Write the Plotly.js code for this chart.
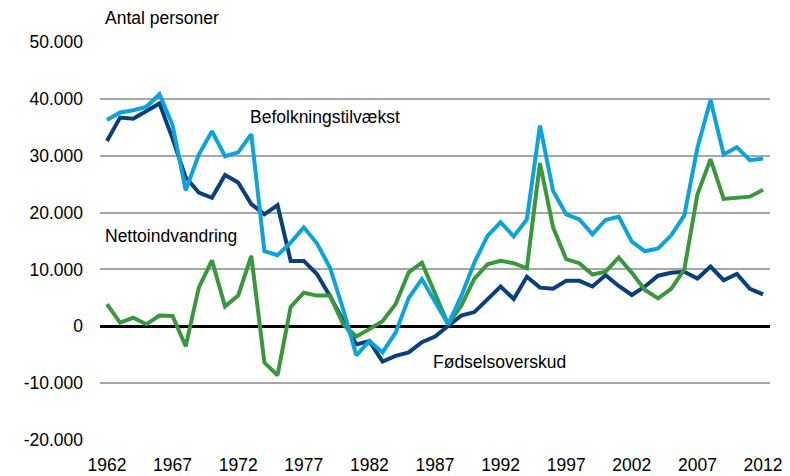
<!DOCTYPE html>
<html>
<head>
<meta charset="utf-8">
<script src="https://cdn.plot.ly/plotly-3.0.1.min.js"></script>
<style>
  html, body { margin: 0; padding: 0; background: #ffffff; }
  #chart { width: 790px; height: 476px; }
</style>
</head>
<body>
<div id="chart"></div>
<script>
const years = [];
for (let y = 1962; y <= 2012; y++) years.push(y);

const befolkningstilvaekst = [
  36300, 37600, 38000, 38600, 40800, 35400, 23900, 30200, 34300, 29900,
  30600, 33800, 13200, 12500, 14700, 17400, 14600, 10300, 3000, -5100,
  -2600, -4600, -1100, 5000, 8300, 4200, 350, 5300, 11200, 15900,
  18300, 15800, 18800, 35300, 23800, 19700, 18800, 16200, 18700, 19300,
  14900, 13200, 13700, 16000, 19500, 31400, 39800, 30200, 31500, 29200,
  29500
];

const nettoindvandring = [
  3900, 650, 1500, 350, 1900, 1800, -3500, 6800, 11600, 3500,
  5400, 12400, -6400, -8600, 3400, 5900, 5400, 5400, 350, -1800,
  -500, 900, 3900, 9500, 11200, 5900, 350, 3600, 8400, 10900,
  11500, 11100, 10200, 28700, 17400, 11800, 11100, 9100, 9600, 12100,
  9400, 6400, 4900, 6600, 10000, 23200, 29400, 22400, 22600, 22800,
  24000
];

const foedselsoverskud = [
  32600, 36700, 36500, 37900, 39200, 33000, 26200, 23500, 22600, 26600,
  25300, 21500, 19700, 21300, 11500, 11500, 9200, 5300, 900, -3200,
  -2600, -6200, -5200, -4600, -2800, -1800, 60, 1900, 2500, 4800,
  7000, 4800, 8700, 6800, 6600, 8000, 8000, 7000, 9000, 7100,
  5500, 7000, 8900, 9400, 9600, 8400, 10500, 8100, 9200, 6600,
  5600
];

const xTickVals = [1962, 1967, 1972, 1977, 1982, 1987, 1992, 1997, 2002, 2007, 2012];
const xTickText = ["1962", "1967", "1972", "1977", "1982", "1987", "1992", "1997", "2002", "2007", "2012"];
const yTickVals = [-20000, -10000, 0, 10000, 20000, 30000, 40000, 50000];
const yTickText = ["-20.000", "-10.000", "0", "10.000", "20.000", "30.000", "40.000", "50.000"];

const seriesNames = ["Fødselsoverskud", "Nettoindvandring", "Befolkningstilvækst"];
const titleText = "Antal personer";

const FONT = "Arial, 'Liberation Sans', Helvetica, sans-serif";

const traces = [
  { x: years, y: foedselsoverskud, name: seriesNames[0], type: "scatter", mode: "lines",
    line: { color: "#083F7D", width: 4, shape: "linear" } },
  { x: years, y: nettoindvandring, name: seriesNames[1], type: "scatter", mode: "lines",
    line: { color: "#3A983C", width: 4, shape: "linear" } },
  { x: years, y: befolkningstilvaekst, name: seriesNames[2], type: "scatter", mode: "lines",
    line: { color: "#0BA3DE", width: 4, shape: "linear" } }
];

function px2paperX(px) { return (px - 100) / 670; }
function px2paperY(py) { return (440 - py) / 398; }

const layout = {
  width: 790, height: 476,
  margin: { l: 100, r: 20, t: 42, b: 36 },
  paper_bgcolor: "#ffffff", plot_bgcolor: "#ffffff",
  showlegend: false,
  font: { family: FONT, size: 17.5, color: "#000000" },
  xaxis: {
    range: [1961.47, 2012.53],
    tickmode: "array", tickvals: xTickVals, ticktext: xTickText,
    showgrid: false, zeroline: false, showline: false, ticks: "",
    ticklabelstandoff: 12,
    tickfont: { family: FONT, size: 17.5, color: "#000000" },
    fixedrange: true
  },
  yaxis: {
    range: [-20000, 50000],
    tickmode: "array", tickvals: yTickVals, ticktext: yTickText,
    showgrid: true, gridcolor: "#A6A6A6", gridwidth: 2,
    zeroline: true, zerolinecolor: "#000000", zerolinewidth: 2.5,
    showline: false, ticks: "",
    ticklabelstandoff: 16,
    tickfont: { family: FONT, size: 17.5, color: "#000000" },
    fixedrange: true
  },
  annotations: [
    { text: titleText, xref: "paper", yref: "paper", x: px2paperX(103), y: px2paperY(18),
      xanchor: "left", yanchor: "middle", showarrow: false, font: { family: FONT, size: 17.5, color: "#000" } },
    { text: seriesNames[2], xref: "paper", yref: "paper", x: px2paperX(248), y: px2paperY(117),
      xanchor: "left", yanchor: "middle", showarrow: false, font: { family: FONT, size: 17.5, color: "#000" } },
    { text: seriesNames[1], xref: "paper", yref: "paper", x: px2paperX(103), y: px2paperY(236),
      xanchor: "left", yanchor: "middle", showarrow: false, font: { family: FONT, size: 17.5, color: "#000" } },
    { text: seriesNames[0], xref: "paper", yref: "paper", x: px2paperX(431), y: px2paperY(362),
      xanchor: "left", yanchor: "middle", showarrow: false, font: { family: FONT, size: 17.5, color: "#000" } }
  ]
};

Plotly.newPlot("chart", traces, layout, { displayModeBar: false, staticPlot: true });
</script>
</body>
</html>
